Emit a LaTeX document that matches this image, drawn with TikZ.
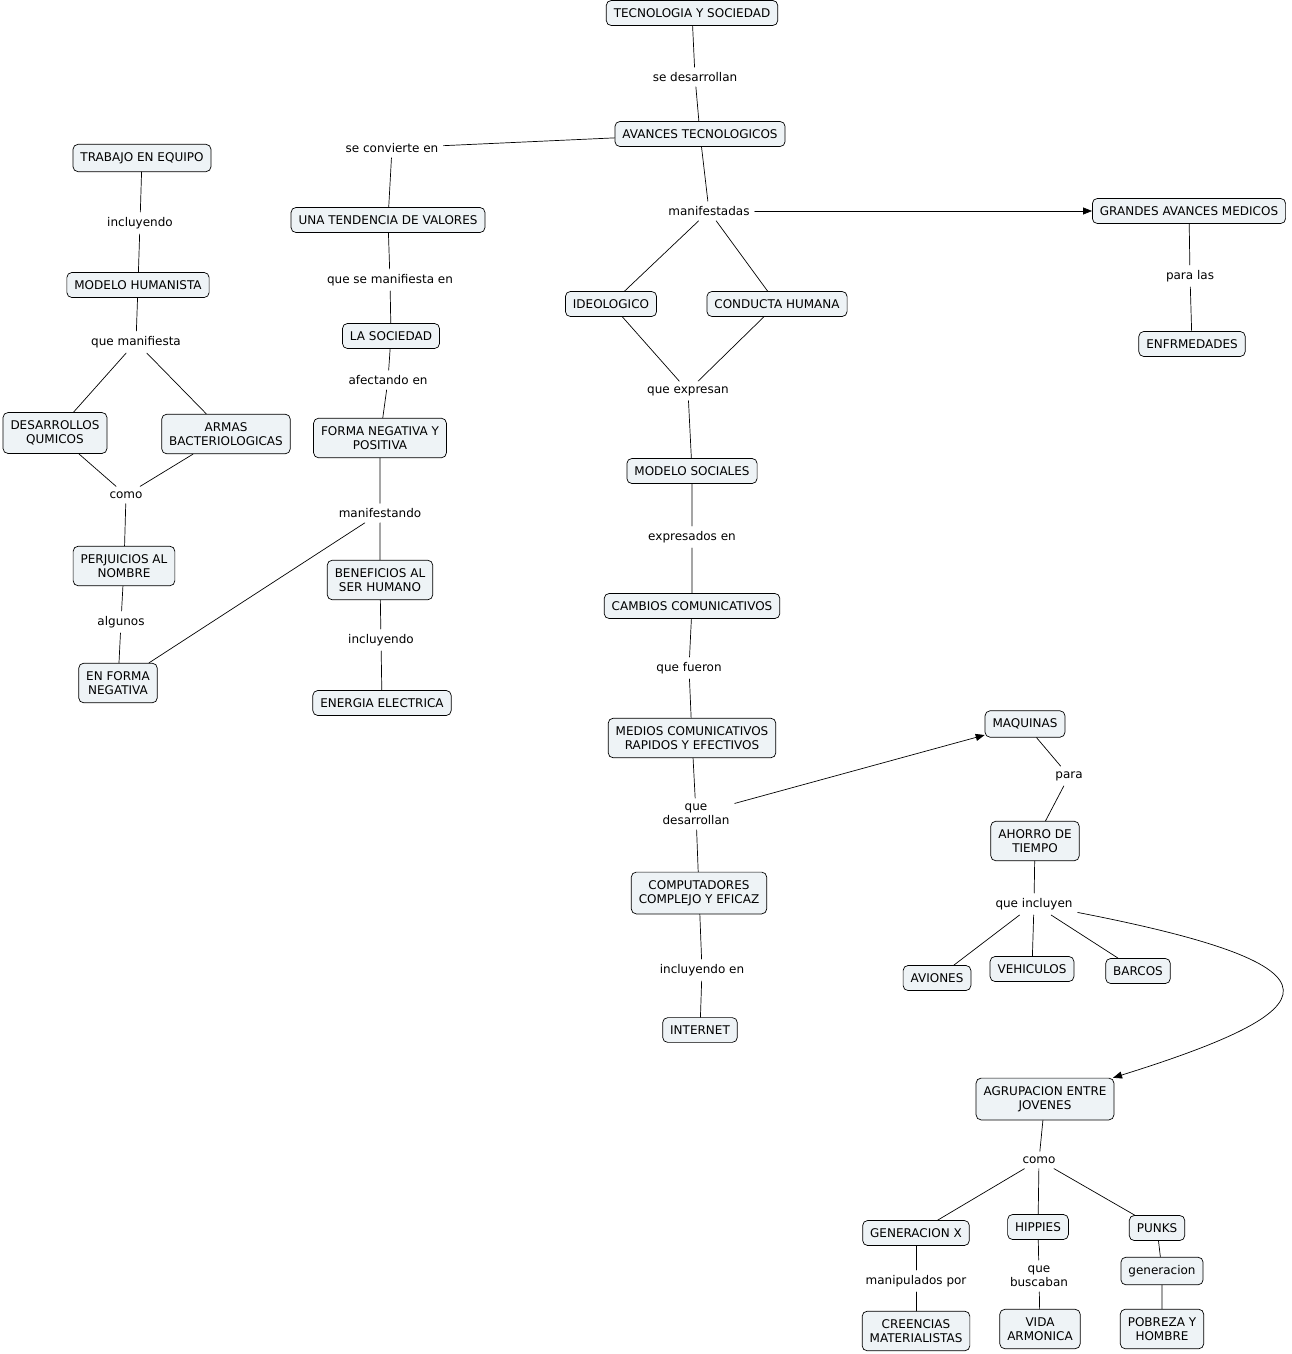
\documentclass[tikz,border=0pt]{standalone}
\usepackage{fontspec}
\setmainfont{DejaVu Sans}
\usetikzlibrary{arrows.meta}
\definecolor{conceptfill}{HTML}{EEF3F6}
\begin{document}
\begin{tikzpicture}[x=1pt, y=-1pt, line cap=round, line join=round,
    font=\fontsize{12}{14.5}\selectfont,
    concept/.style={draw, fill=conceptfill, rounded corners=5pt, align=center,
      inner xsep=7.5pt, inner ysep=8pt, line width=0.7pt},
    phrase/.style={align=center, inner sep=5pt},
    link/.style={line width=0.7pt},
    arrow/.style={link, -{Triangle[length=9pt,width=7pt]}}]
  \useasboundingbox (0,0) rectangle (1291,1354);
  % conceptos
  \node[concept] (tys) at (692,13) {TECNOLOGIA Y SOCIEDAD};
  \node[concept] (avan) at (700,134) {AVANCES TECNOLOGICOS};
  \node[concept] (trab) at (142,158) {TRABAJO EN EQUIPO};
  \node[concept] (tend) at (388,220) {UNA TENDENCIA DE VALORES};
  \node[concept] (gmed) at (1189,211) {GRANDES AVANCES MEDICOS};
  \node[concept] (mhum) at (138,285) {MODELO HUMANISTA};
  \node[concept] (ideo) at (611,304) {IDEOLOGICO};
  \node[concept] (cond) at (777,304) {CONDUCTA HUMANA};
  \node[concept] (soc) at (391,336) {LA SOCIEDAD};
  \node[concept] (enf) at (1192,344) {ENFRMEDADES};
  \node[concept] (desq) at (55,433) {DESARROLLOS\\QUMICOS};
  \node[concept] (armas) at (226,434) {ARMAS\\BACTERIOLOGICAS};
  \node[concept] (forma) at (380,438) {FORMA NEGATIVA Y\\POSITIVA};
  \node[concept] (msoc) at (692,471) {MODELO SOCIALES};
  \node[concept] (perj) at (124,566) {PERJUICIOS AL\\NOMBRE};
  \node[concept] (benef) at (380,580) {BENEFICIOS AL\\SER HUMANO};
  \node[concept] (ccom) at (692,606) {CAMBIOS COMUNICATIVOS};
  \node[concept] (fneg) at (118,683) {EN FORMA\\NEGATIVA};
  \node[concept] (energ) at (382,703) {ENERGIA ELECTRICA};
  \node[concept] (maq) at (1025,724) {MAQUINAS};
  \node[concept] (medios) at (692,738) {MEDIOS COMUNICATIVOS\\RAPIDOS Y EFECTIVOS};
  \node[concept] (ahorro) at (1035,841) {AHORRO DE\\TIEMPO};
  \node[concept] (comp) at (699,893) {COMPUTADORES\\COMPLEJO Y EFICAZ};
  \node[concept] (aviones) at (937,978) {AVIONES};
  \node[concept] (vehic) at (1032,969) {VEHICULOS};
  \node[concept] (barcos) at (1138,971) {BARCOS};
  \node[concept] (inter) at (700,1030) {INTERNET};
  \node[concept] (agrup) at (1045,1099) {AGRUPACION ENTRE\\JOVENES};
  \node[concept] (genx) at (916,1233) {GENERACION X};
  \node[concept] (hipp) at (1038,1227) {HIPPIES};
  \node[concept] (punks) at (1157,1228) {PUNKS};
  \node[concept] (gener) at (1162,1271) {generacion};
  \node[concept] (creen) at (916,1331) {CREENCIAS\\MATERIALISTAS};
  \node[concept] (vida) at (1040,1329) {VIDA\\ARMONICA};
  \node[concept] (pobr) at (1162,1329) {POBREZA Y\\HOMBRE};
  % frases de enlace
  \node[phrase] (pDes) at (695,77) {se desarrollan};
  \node[phrase] (pConv) at (392,148) {se convierte en};
  \node[phrase] (pManif) at (709,211) {manifestadas};
  \node[phrase] (pIncl) at (140,223) {incluyendo};
  \node[phrase] (pSeMan) at (390,280) {que se manifiesta en};
  \node[phrase] (pPara) at (1190,276) {para las};
  \node[phrase] (pQueMan) at (136,342) {que manifiesta};
  \node[phrase] (pAfect) at (388,380) {afectando en};
  \node[phrase] (pExpr) at (688,391) {que expresan};
  \node[phrase] (pComo) at (126,495) {como};
  \node[phrase] (pMfest) at (380,513) {manifestando};
  \node[phrase] (pExpEn) at (692,537) {expresados en};
  \node[phrase] (pAlg) at (121,622) {algunos};
  \node[phrase] (pInclB) at (381,640) {incluyendo};
  \node[phrase] (pFuer) at (689,668) {que fueron};
  \node[phrase] (pParaB) at (1069,776) {para};
  \node[phrase] (pDesarr) at (696,814) {que\\desarrollan};
  \node[phrase] (pQueInc) at (1034,904) {que incluyen};
  \node[phrase] (pInclEn) at (702,970) {incluyendo en};
  \node[phrase] (pComoB) at (1039,1160) {como};
  \node[phrase] (pManip) at (916,1281) {manipulados por};
  \node[phrase] (pBusc) at (1039,1276) {que\\buscaban};
  % conexiones
  \draw[link] (tys) -- (pDes) -- (avan);
  \draw[link] (avan) -- (pConv) -- (tend);
  \draw[link] (avan) -- (pManif);
  \draw[arrow] (pManif) -- (gmed);
  \draw[link] (ideo) -- (pManif) -- (cond);
  \draw[link] (gmed) -- (pPara) -- (enf);
  \draw[link] (trab) -- (pIncl) -- (mhum);
  \draw[link] (desq) -- (pQueMan) -- (armas);
  \draw[link] (mhum) -- (pQueMan);
  \draw[link] (desq) -- (pComo) -- (armas);
  \draw[link] (pComo) -- (perj) -- (pAlg) -- (fneg);
  \draw[link] (tend) -- (pSeMan) -- (soc) -- (pAfect) -- (forma) -- (pMfest) -- (benef);
  \draw[link] (pMfest) -- (fneg);
  \draw[link] (benef) -- (pInclB) -- (energ);
  \draw[link] (ideo) -- (pExpr) -- (cond);
  \draw[link] (pExpr) -- (msoc) -- (pExpEn) -- (ccom) -- (pFuer) -- (medios) -- (pDesarr) -- (comp);
  \draw[arrow] (pDesarr) -- (maq);
  \draw[link] (comp) -- (pInclEn) -- (inter);
  \draw[link] (maq) -- (pParaB) -- (ahorro) -- (pQueInc);
  \foreach \q in {aviones,vehic,barcos} \draw[link] (pQueInc) -- (\q);
  \draw[arrow] (pQueInc) .. controls (1359,967) and (1330,1010) .. (agrup);
  \draw[link] (agrup) -- (pComoB);
  \foreach \q in {genx,hipp,punks} \draw[link] (pComoB) -- (\q);
  \draw[link] (genx) -- (pManip) -- (creen);
  \draw[link] (hipp) -- (pBusc) -- (vida);
  \draw[link] (punks) -- (gener) -- (pobr);
\end{tikzpicture}
\end{document}
